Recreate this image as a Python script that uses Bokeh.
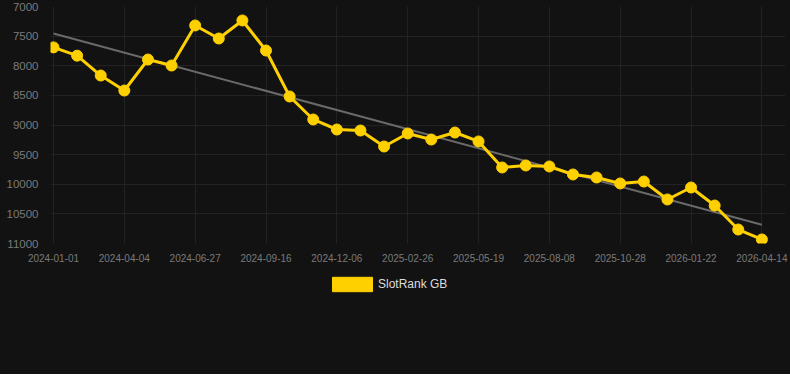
from bokeh.plotting import figure
from bokeh.layouts import column
from bokeh.models import Range1d, FixedTicker, Legend, LegendItem, ColumnDataSource
from bokeh.embed import file_html
from bokeh.resources import INLINE

# Data
tick_labels = ["2024-01-01", "2024-04-04", "2024-06-27", "2024-09-16", "2024-12-06",
               "2025-02-26", "2025-05-19", "2025-08-08", "2025-10-28", "2026-01-22",
               "2026-04-14"]
ranks = [7690, 7830, 8165, 8418, 7895, 7996, 7320, 7540, 7236, 7743,
         8519, 8907, 9076, 9093, 9363, 9143, 9245, 9127, 9278, 9717,
         9683, 9700, 9835, 9886, 9987, 9954, 10257, 10055, 10359, 10764,
         10932]
trend_values = [7456, 10684]
y_ticks = [7000, 7500, 8000, 8500, 9000, 9500, 10000, 10500, 11000]
series_name = "SlotRank GB"

idx = list(range(len(ranks)))
tick_pos = idx[::3]

BG = "#121212"
YELLOW = "#FFD000"
FONT = "Liberation Sans"

p = figure(width=790, height=270, output_backend="svg", toolbar_location=None,
           x_range=Range1d(-0.127, 31.0), y_range=Range1d(11000, 7000),
           background_fill_color=BG, border_fill_color=BG,
           min_border_top=6, min_border_left=50, min_border_right=5,
           min_border_bottom=27)
p.outline_line_color = None

# axes
p.xaxis.ticker = FixedTicker(ticks=tick_pos)
p.xaxis.major_label_overrides = {i: lab for i, lab in zip(tick_pos, tick_labels)}
p.yaxis.ticker = FixedTicker(ticks=y_ticks)
for ax in (p.xaxis[0], p.yaxis[0]):
    ax.axis_line_color = None
    ax.major_tick_line_color = None
    ax.minor_tick_line_color = None
    ax.major_label_text_color = "#7a7a7a"
    ax.major_label_text_font = FONT
p.xaxis.major_label_text_font_size = "10px"
p.xaxis.major_label_standoff = 4
p.yaxis.major_label_text_font_size = "11.5px"
p.yaxis.major_label_standoff = 6

p.xgrid.ticker = FixedTicker(ticks=tick_pos)
p.ygrid.ticker = FixedTicker(ticks=y_ticks)
p.xgrid.grid_line_color = "#222222"
p.ygrid.grid_line_color = "#222222"

# trend line
p.line([idx[0], idx[-1]], trend_values, line_color="#6a6a6a", line_width=2)

# series
src = ColumnDataSource(dict(x=idx, y=ranks))
p.line("x", "y", source=src, line_color=YELLOW, line_width=3)
p.scatter("x", "y", source=src, size=11, fill_color=YELLOW, line_color=YELLOW)

# legend strip below the chart
lg = figure(width=790, height=104, output_backend="svg", toolbar_location=None,
            x_range=Range1d(0, 1), y_range=Range1d(0, 1),
            background_fill_color=BG, border_fill_color=BG,
            min_border=0)
lg.outline_line_color = None
lg.axis.visible = False
lg.grid.visible = False
sw = lg.rect(x=[-10], y=[-10], width=0.1, height=0.1, fill_color=YELLOW, line_color=YELLOW)

legend = Legend(items=[LegendItem(label=series_name, renderers=[sw])],
                location=(277, 81), orientation="horizontal",
                glyph_width=50, glyph_height=18, label_height=18,
                label_text_font=FONT, label_text_font_size="12px",
                label_text_color="#dddddd",
                background_fill_alpha=0, border_line_color=None,
                margin=0, padding=0, label_standoff=1)
lg.add_layout(legend, "center")

page = column(p, lg, spacing=0, styles={"background-color": BG})
open("out.html", "w").write(file_html(page, INLINE))
